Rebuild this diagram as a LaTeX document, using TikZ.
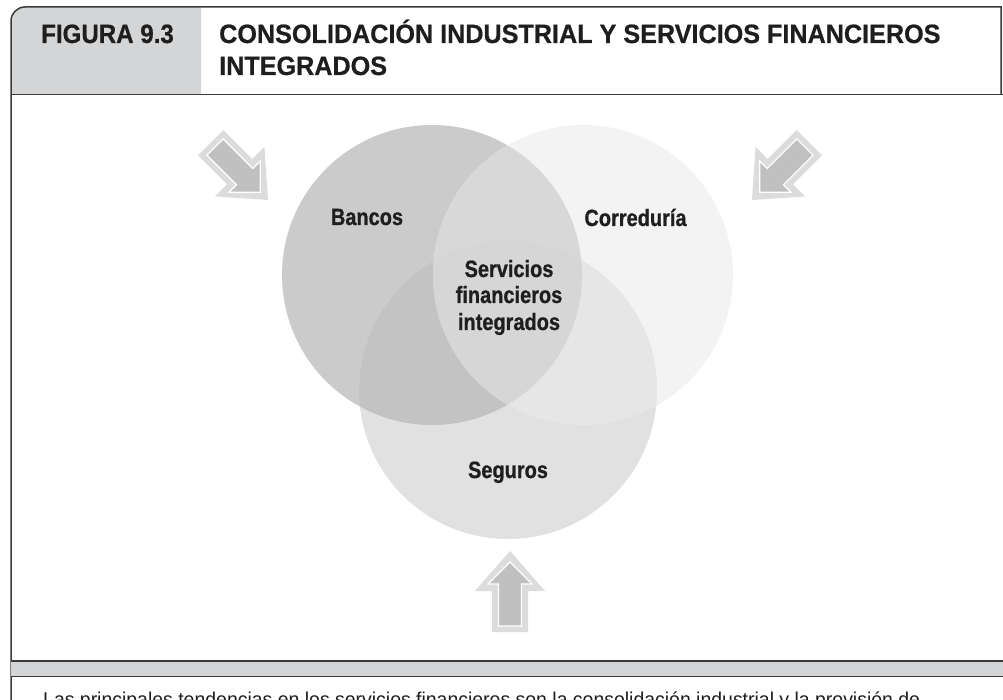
\documentclass[tikz,border=0pt]{standalone}
\usepackage{fontspec}
\usepackage{graphicx}
\setmainfont{Liberation Sans}
\newfontfamily\lblfont{Liberation Sans Bold}[FakeStretch=0.85,FakeBold=0.8]
\newfontfamily\figfont{Liberation Sans Bold}[FakeStretch=0.91,FakeBold=0.6]
\newfontfamily\ttlfont{Liberation Sans Bold}[FakeStretch=0.95,FakeBold=0.6]
\definecolor{headgray}{HTML}{D4D5D6}
\definecolor{linegray}{HTML}{3A3A3A}
\definecolor{inkdark}{HTML}{1E1E1E}
\definecolor{colB}{HTML}{CBCBCB}
\definecolor{colC}{HTML}{F2F3F2}
\definecolor{colS}{HTML}{E1E1E1}
\definecolor{colBC}{HTML}{D8D8D8}
\definecolor{colBS}{HTML}{C3C3C4}
\definecolor{colCS}{HTML}{E6E6E6}
\definecolor{colBCS}{HTML}{D6D6D6}
\definecolor{arrowout}{HTML}{DCDCDC}
\definecolor{arrowin}{HTML}{C0C0C0}
\begin{document}
\begin{tikzpicture}[x=1pt,y=-1pt,
  frameline/.style={draw=linegray,line width=1.5pt},
  headtxt/.style={inner sep=0pt,anchor=base west,text=inkdark},
  lbl/.style={inner sep=0pt,anchor=base,text=inkdark,font=\lblfont\fontsize{23.5}{26.5}\selectfont},
  blockarrow/.pic={
    \path[fill=arrowout] (0,0) -- (35,40) -- (18,40) -- (18,81) -- (-18,81) -- (-18,40) -- (-35,40) -- cycle;
    \path[fill=arrowin,draw=white,line width=1.2pt] (0,11) -- (22,33) -- (11.5,33) -- (11.5,75) -- (-11.5,75) -- (-11.5,33) -- (-22,33) -- cycle;
  }]
\useasboundingbox (0,0) rectangle (1003,700);
\fill[white] (0,0) rectangle (1003,700);

% header
\fill[headgray] (11,94.5) [rounded corners=14pt] -- (11,7) [sharp corners] -- (201,7) -- (201,94.5) -- cycle;
\draw[frameline] (11,700) -- (11,94.5) [rounded corners=14pt] -- (11,7) [sharp corners] -- (1001,7) -- (1001,94.5);
\draw[frameline] (11,94.5) -- (1003,94.5);
\node[headtxt,font=\figfont\fontsize{26.5}{32}\selectfont] (fig) at (41,43) {FIGURA 9.3};
\node[headtxt,font=\ttlfont\fontsize{26.5}{32}\selectfont] (title1) at (219,43) {CONSOLIDACIÓN INDUSTRIAL Y SERVICIOS FINANCIEROS};
\node[headtxt,font=\ttlfont\fontsize{26.5}{32}\selectfont] (title2) at (219,75) {INTEGRADOS};

% venn
\coordinate (cB) at (432,275);
\coordinate (cC) at (583,275);
\coordinate (cS) at (508,390);
\fill[colB] (cB) circle[radius=150];
\fill[colC] (cC) circle[radius=150];
\fill[colS] (cS) circle[radius=149];
\begin{scope}
  \clip (cB) circle[radius=150];
  \fill[colBC] (cC) circle[radius=150];
  \fill[colBS] (cS) circle[radius=149];
\end{scope}
\begin{scope}
  \clip (cC) circle[radius=150];
  \fill[colCS] (cS) circle[radius=149];
  \clip (cB) circle[radius=150];
  \fill[colBCS] (cS) circle[radius=149];
\end{scope}

\node[lbl] (bancos) at (367,225) {Bancos};
\node[lbl] (corr) at (635.5,226) {Correduría};
\node[lbl] (srv1) at (509,277) {Servicios};
\node[lbl] (srv2) at (509,303) {financieros};
\node[lbl] (srv3) at (509,330) {integrados};
\node[lbl] (seguros) at (508,478) {Seguros};

% arrows
\pic[rotate=-135] (arrL) at (268,200) {blockarrow};
\pic[rotate=135] (arrR) at (752,200) {blockarrow};
\pic (arrU) at (510,551) {blockarrow};

% bottom bar
\fill[headgray] (11,661) rectangle (1003,676.5);
\draw[frameline] (11,661) -- (1003,661);
\draw[frameline] (11,676.5) -- (1003,676.5);
\node[inner sep=0pt,anchor=base west,text=inkdark] (caption) at (43,706.5)
  {\resizebox{877pt}{\height}{\fontsize{20}{24}\selectfont Las principales tendencias en los servicios financieros son la consolidación industrial y la provisión de}};
\end{tikzpicture}
\end{document}
